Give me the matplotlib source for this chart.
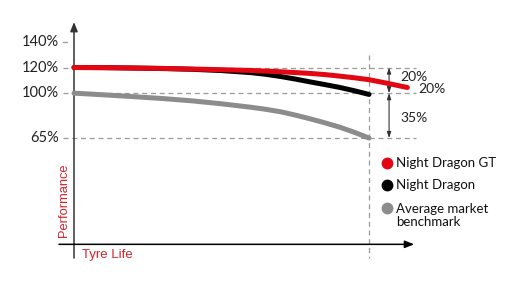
import matplotlib
matplotlib.use("Agg")
import matplotlib.pyplot as plt

# ---- data ----
series_names = ["Night Dragon GT", "Night Dragon", "Average market\nbenchmark"]
series_colors = ["#e30613", "#000000", "#8c8c8c"]

x_gt = [0, 10, 20, 30, 40, 50, 60, 70, 80, 85, 90, 95, 100, 106, 113]
y_gt = [120, 119.9, 119.6, 119.3, 118.8, 118.3, 117.7, 116.7, 115.4, 114.5, 113.3, 112.0, 110.5, 107.8, 104.4]

x_nd = [0, 10, 20, 30, 40, 50, 60, 65, 70, 75, 80, 85, 90, 95, 100]
y_nd = [120, 119.9, 119.6, 119.2, 118.6, 117.6, 116, 114.7, 113, 111.0, 108.8, 106.7, 104.5, 101.9, 99]

x_avg = [0, 10, 20, 30, 40, 50, 60, 65, 70, 75, 80, 85, 90, 95, 100]
y_avg = [100, 98.7, 97.3, 95.8, 94, 91.7, 89, 87.4, 85.5, 82.9, 80, 76.9, 73.5, 69.5, 65]

tick_values = [140, 120, 100, 65]
tick_labels = ["140%", "120%", "100%", "65%"]
ref_lines = [120, 100, 65]
gap_labels = ["20%", "20%", "35%"]
x_label = "Tyre Life"
y_label = "Performance"
end_of_life = 100

W, H = 524, 286
fig = plt.figure(figsize=(W / 100, H / 100), dpi=100)
ax = fig.add_axes([0, 0, 1, 1])
ax.set_xlim(-25.085, 152.54)
ax.set_ylim(-50.4, 172.65)
ax.axis("off")

font = "Lato"
red_txt = "#d7232c"
dash_col = "#9a9a9a"

# reference dashed lines
ax.plot([-3.7, -2.4], [140, 140], color=dash_col, lw=0.9)
for v in ref_lines:
    ax.plot([-3.7, 116], [v, v], color=dash_col, lw=0.9, dashes=(4, 3), zorder=1)
ax.plot([end_of_life, end_of_life], [129.7, -28.6], color=dash_col, lw=0.9,
        dashes=(4, 3), zorder=1)

# axes
ax.annotate("", xy=(0, 155.5), xytext=(0, -28.6),
            arrowprops=dict(arrowstyle="-|>,head_length=0.55,head_width=0.22",
                            lw=1.1, color="#333333", shrinkA=0, shrinkB=0))
ax.annotate("", xy=(115.3, -17.9), xytext=(-5.08, -17.9),
            arrowprops=dict(arrowstyle="-|>,head_length=0.55,head_width=0.22",
                            lw=1.1, color="#000000", shrinkA=0, shrinkB=0))

# series
ax.plot(x_avg, y_avg, color=series_colors[2], lw=3.6, solid_capstyle="round",
        solid_joinstyle="round", zorder=3)
ax.plot(x_nd, y_nd, color=series_colors[1], lw=3.6, solid_capstyle="round",
        solid_joinstyle="round", zorder=4)
ax.plot(x_gt, y_gt, color=series_colors[0], lw=3.6, solid_capstyle="round",
        solid_joinstyle="round", zorder=5)

# tick labels
for v, lab in zip(tick_values, tick_labels):
    ax.text(-5.08, v, lab, ha="right", va="center", fontsize=10.5,
            family=font, color="#222222")

# gap arrows
xa = 106.8
for a, b in [(ref_lines[0], ref_lines[1]), (ref_lines[1], ref_lines[2])]:
    ax.annotate("", xy=(xa, b), xytext=(xa, a),
                arrowprops=dict(arrowstyle="<|-|>,head_length=0.35,head_width=0.12",
                                lw=0.8, color="#333333", shrinkA=0, shrinkB=0))
ax.text(110.5, 112.6, gap_labels[0], ha="left", va="center", fontsize=10, family=font, color="#222222")
ax.text(116.6, 103.2, gap_labels[1], ha="left", va="center", fontsize=10, family=font, color="#222222")
ax.text(110.5, 80.6, gap_labels[2], ha="left", va="center", fontsize=10, family=font, color="#222222")

# axis labels
ax.text(64.5 / W, 1 - 200 / H, y_label, transform=ax.transAxes, rotation=90,
        ha="center", va="center", fontsize=9.3, family="Liberation Sans", color=red_txt)
ax.text(82 / W, 1 - 255 / H, x_label, transform=ax.transAxes,
        ha="left", va="center", fontsize=9.5, family="Liberation Sans", color=red_txt)

# legend
leg_y = [163.3, 185, 208.3]
for name, col, yp in zip(series_names, series_colors, leg_y):
    ax.plot([386.5 / W], [1 - yp / H], "o", ms=7.5, color=col, transform=ax.transAxes)
    if "\n" in name:
        ax.text(396.5 / W, 1 - (yp - 5.5) / H, name, transform=ax.transAxes, ha="left",
                va="top", fontsize=9.5, family=font, color="#111111", linespacing=1.1)
    else:
        ax.text(396.5 / W, 1 - yp / H, name, transform=ax.transAxes, ha="left",
                va="center", fontsize=9.5, family=font, color="#111111")

fig.savefig("out.png", dpi=100)
